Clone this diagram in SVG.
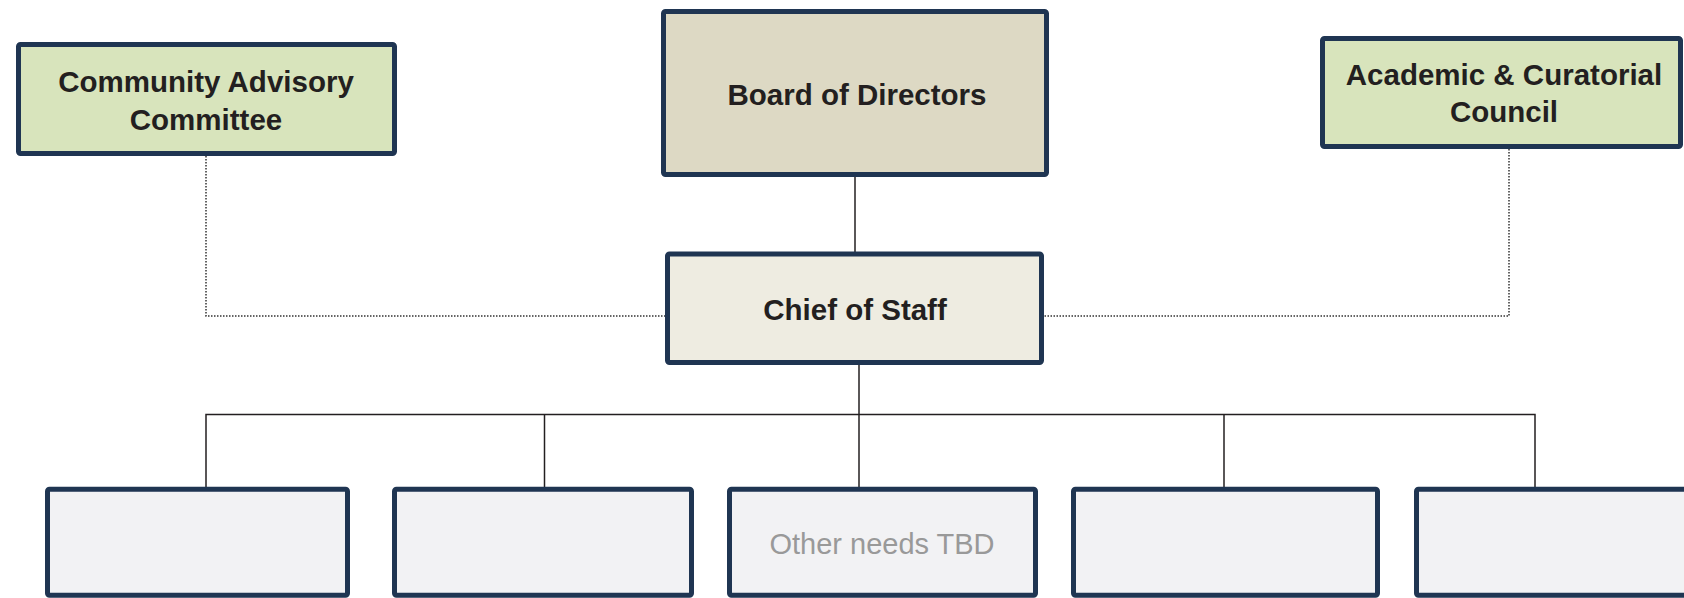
<svg xmlns="http://www.w3.org/2000/svg" width="1684" height="598" viewBox="0 0 1684 598">
<style>
.box{stroke:#1F3552;stroke-width:5}
.t{font-family:"Liberation Sans",Arial,sans-serif;font-size:29.5px;font-weight:bold;fill:#231F20;text-anchor:middle}
.g{font-family:"Liberation Sans",Arial,sans-serif;font-size:29px;fill:#999999;text-anchor:middle}
.solid{fill:none;stroke:#231F20;stroke-width:1.5}
.dot{fill:none;stroke:#333333;stroke-width:1.5;stroke-dasharray:1.5 1.5}
</style>
<rect width="1684" height="598" fill="#ffffff"/>
<g id="connectors">
<line class="solid" x1="855" y1="176" x2="855" y2="253"/>
<line class="solid" x1="859" y1="364" x2="859" y2="415"/>
<polyline class="solid" points="206,488 206,414.5 1535,414.5 1535,488"/>
<line class="solid" x1="544.5" y1="414.5" x2="544.5" y2="488"/>
<line class="solid" x1="859" y1="414.5" x2="859" y2="488"/>
<line class="solid" x1="1224" y1="414.5" x2="1224" y2="488"/>
<polyline class="dot" points="206,156 206,316 666,316"/>
<polyline class="dot" points="1509,149 1509,316 1043,316"/>
</g>
<g id="community">
<rect class="box" x="18.5" y="44.5" width="376" height="109" rx="2" fill="#D8E4BC"/>
<text class="t" x="206" y="92">Community Advisory</text>
<text class="t" x="206" y="130">Committee</text>
</g>
<g id="board">
<rect class="box" x="663.5" y="11.5" width="383" height="163" rx="2" fill="#DDD9C4"/>
<text class="t" x="857" y="105">Board of Directors</text>
</g>
<g id="academic">
<rect class="box" x="1322.5" y="38.5" width="358" height="108" rx="2" fill="#D8E4BC"/>
<text class="t" x="1504" y="85">Academic &amp; Curatorial</text>
<text class="t" x="1504" y="122">Council</text>
</g>
<g id="chief">
<rect class="box" x="667.5" y="254" width="374" height="108.5" rx="2" fill="#EEECE1"/>
<text class="t" x="855" y="320">Chief of Staff</text>
</g>
<g id="unit1">
<rect class="box" x="47.5" y="489.2" width="300" height="106" rx="2" fill="#F2F2F4"/>
</g>
<g id="unit2">
<rect class="box" x="394.5" y="489.2" width="297" height="106" rx="2" fill="#F2F2F4"/>
</g>
<g id="unit3">
<rect class="box" x="729.5" y="489.2" width="306" height="106" rx="2" fill="#F2F2F4"/>
<text class="g" x="882" y="554">Other needs TBD</text>
</g>
<g id="unit4">
<rect class="box" x="1073.5" y="489.2" width="304" height="106" rx="2" fill="#F2F2F4"/>
</g>
<g id="unit5">
<rect class="box" x="1416.5" y="489.2" width="290" height="106" rx="2" fill="#F2F2F4"/>
</g>
</svg>
